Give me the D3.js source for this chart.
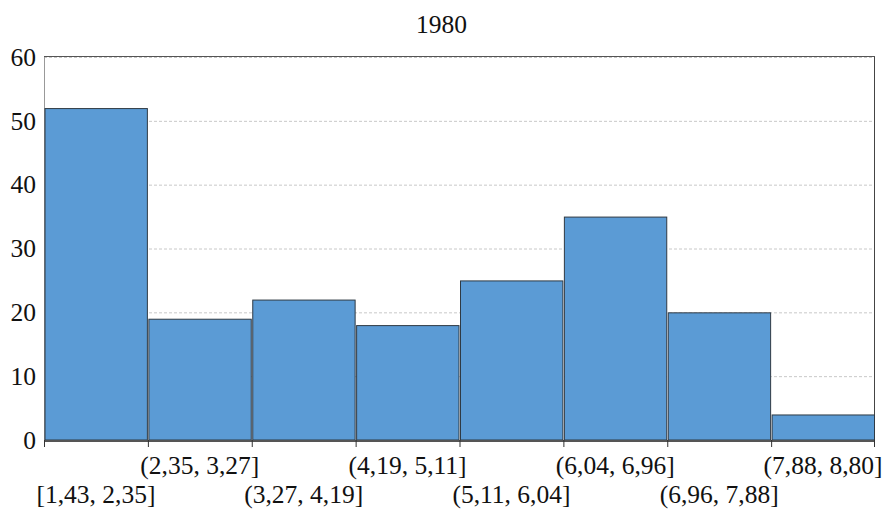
<!DOCTYPE html>
<html>
<head>
<meta charset="utf-8">
<script src="https://cdn.jsdelivr.net/npm/d3@7"></script>
<style>
  html, body { margin: 0; padding: 0; background: #fff; }
  svg { display: block; font-family: "Liberation Serif", "Times New Roman", serif; }
</style>
</head>
<body>
<svg id="chart" width="883" height="512"></svg>
<script>
// Histogram of 1980 values, eight equal-width bins
const title = "1980";
const binLabels = ["[1,43, 2,35]", "(2,35, 3,27]", "(3,27, 4,19]", "(4,19, 5,11]",
                   "(5,11, 6,04]", "(6,04, 6,96]", "(6,96, 7,88]", "(7,88, 8,80]"];
const counts = [52, 19, 22, 18, 25, 35, 20, 4];
const yTicks = [0, 10, 20, 30, 40, 50, 60];

const FONT = 25.5;
const SERIF = "'Liberation Serif', 'Times New Roman', serif";
const svg = d3.select("#chart");
const margin = { left: 44, right: 8, top: 57, bottom: 72 };
const W = 883, H = 512;
const x0 = margin.left, x1 = W - margin.right;
const y0 = H - margin.bottom, y1 = margin.top;

const x = d3.scaleBand().domain(d3.range(counts.length)).range([x0, x1]).padding(0);
const y = d3.scaleLinear().domain([0, 60]).range([y0, y1]);

// title, centred on the whole figure
svg.append("text")
  .attr("x", W / 2).attr("y", 33)
  .attr("text-anchor", "middle")
  .attr("font-family", SERIF)
  .attr("font-size", FONT).attr("fill", "#111")
  .text(title);

// horizontal grid
svg.append("g").selectAll("line")
  .data(yTicks.filter(d => d > 0))
  .join("line")
  .attr("x1", x0).attr("x2", x1)
  .attr("y1", d => y(d) + 0.5).attr("y2", d => y(d) + 0.5)
  .attr("stroke", "#c8c8c8").attr("stroke-dasharray", "3,2");

// frame: left light, top and right dark
svg.append("line").attr("x1", x0 + 0.5).attr("x2", x0 + 0.5).attr("y1", y1).attr("y2", y0)
  .attr("stroke", "#999");
svg.append("line").attr("x1", x0).attr("x2", x1).attr("y1", y1 - 0.5).attr("y2", y1 - 0.5)
  .attr("stroke", "#555");
svg.append("line").attr("x1", x1 - 0.5).attr("x2", x1 - 0.5).attr("y1", y1).attr("y2", y0)
  .attr("stroke", "#444");

// bars
svg.append("g").selectAll("rect")
  .data(counts)
  .join("rect")
  .attr("x", (d, i) => x(i) + 1)
  .attr("width", x.bandwidth() - 1.5)
  .attr("y", d => y(d) + 0.5)
  .attr("height", d => y(0) - y(d) - 0.5)
  .attr("fill", "#5b9bd5")
  .attr("stroke", "#2f3a44")
  .attr("stroke-width", 1);

// y axis labels
const yAxis = d3.axisLeft(y).tickValues(yTicks).tickSize(0).tickPadding(8);
svg.append("g")
  .attr("transform", `translate(${x0},0)`)
  .call(yAxis)
  .attr("font-family", SERIF)
  .attr("font-size", FONT)
  .call(g => g.select(".domain").remove())
  .call(g => g.selectAll("text").attr("fill", "#111"));

// x axis: bin edge ticks
const edges = d3.range(counts.length + 1).map(i => x0 + i * x.bandwidth());
svg.append("line")
  .attr("x1", x0).attr("x2", x1)
  .attr("y1", y0 + 1).attr("y2", y0 + 1)
  .attr("stroke", "#555").attr("stroke-width", 2);
svg.append("g").selectAll("line")
  .data(edges)
  .join("line")
  .attr("x1", d => Math.min(d, x1 - 1) + 0.5).attr("x2", d => Math.min(d, x1 - 1) + 0.5)
  .attr("y1", y0).attr("y2", y0 + 7)
  .attr("stroke", "#333");

// bin labels, staggered across two rows
svg.append("g").selectAll("text")
  .data(binLabels)
  .join("text")
  .attr("x", (d, i) => x(i) + x.bandwidth() / 2)
  .attr("y", (d, i) => i % 2 === 0 ? 503 : 474)
  .attr("text-anchor", "middle")
  .attr("font-family", SERIF)
  .attr("font-size", FONT).attr("fill", "#111")
  .text(d => d);
</script>
</body>
</html>
